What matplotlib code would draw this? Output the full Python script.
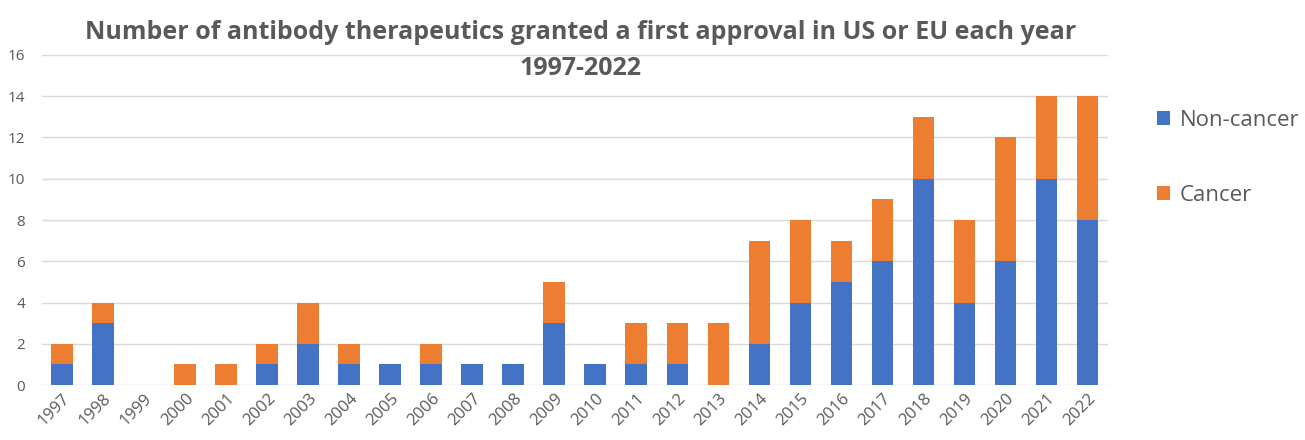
import numpy as np
import matplotlib
matplotlib.use("Agg")
import matplotlib.pyplot as plt

# Data
years = [str(y) for y in range(1997, 2023)]
non_cancer = [1, 3, 0, 0, 0, 1, 2, 1, 1, 1, 1, 1, 3, 1, 1, 1, 0, 2, 4, 5, 6, 10, 4, 6, 10, 8]
cancer = [1, 1, 0, 1, 1, 1, 2, 1, 0, 1, 0, 0, 2, 0, 2, 2, 3, 5, 4, 2, 3, 3, 4, 6, 4, 6]

blue = "#4472C4"
orange = "#ED7D31"
text_col = "#595959"

plt.rcParams['font.family'] = ['Open Sans', 'DejaVu Sans']

fig = plt.figure(figsize=(13.05, 4.4), dpi=100)
ax = fig.add_axes([0.032, 0.125, 0.817, 0.75])

x = np.arange(len(years))
b1 = ax.bar(x, non_cancer, width=0.53, color=blue, zorder=3, label="Non-cancer")
b2 = ax.bar(x, cancer, width=0.53, bottom=non_cancer, color=orange, zorder=3, label="Cancer")

ax.set_ylim(0, 16)
ax.set_xlim(-0.5, len(years) - 0.5)
ax.set_yticks(range(0, 17, 2))
ax.yaxis.grid(True, color="#D9D9D9", linewidth=1, zorder=0)
for s in ax.spines.values():
    s.set_visible(False)
ax.tick_params(axis='y', length=0, colors=text_col, labelsize=11, pad=12)
ax.tick_params(axis='x', length=0, colors=text_col, labelsize=12, pad=4)
ax.set_xticks(x)
ax.set_xticklabels(years, rotation=45, ha='right', rotation_mode='anchor')

fig.suptitle("Number of antibody therapeutics granted a first approval in US or EU each year\n1997-2022",
             x=0.445, y=0.955, fontsize=18, fontweight='bold', color=text_col, linespacing=1.6)

fig.legend(handles=[b1, b2], loc='upper left', bbox_to_anchor=(0.871, 0.795),
           frameon=False, fontsize=16, labelcolor=text_col, handlelength=0.6,
           handleheight=0.6, handletextpad=0.45, labelspacing=2.4)

plt.savefig('out.png', dpi=100)
plt.close()
